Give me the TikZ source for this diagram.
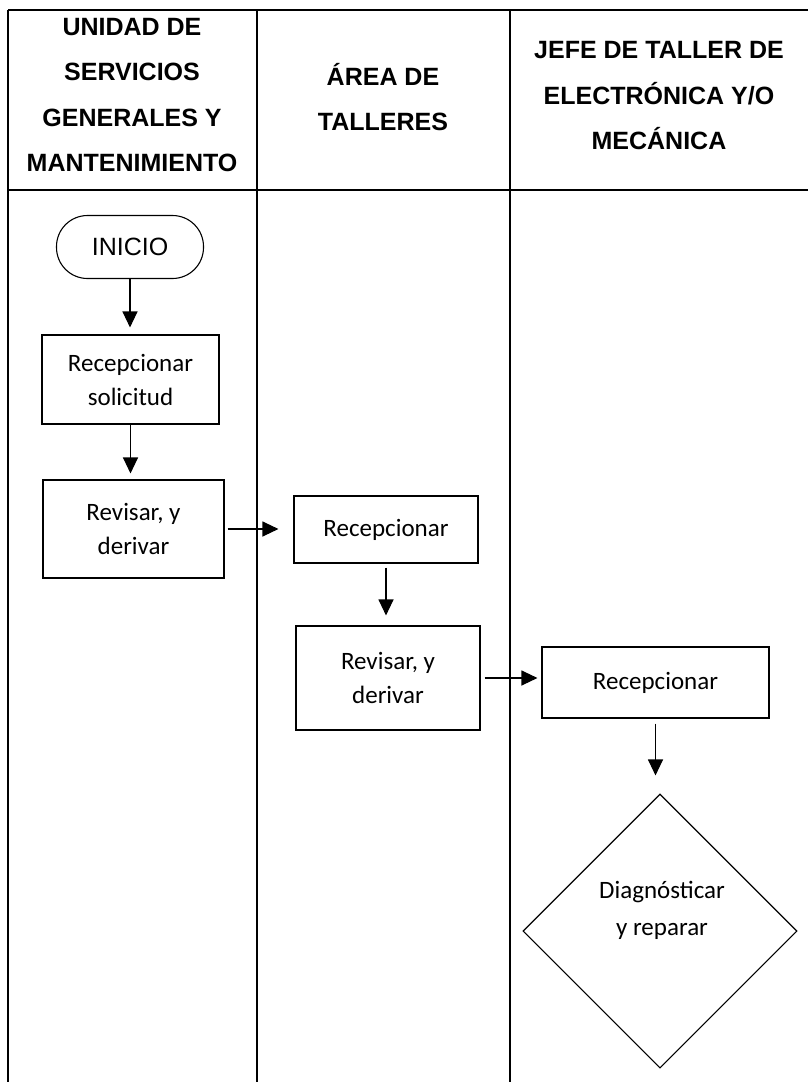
\documentclass[tikz,border=0pt]{standalone}
\usepackage{fontspec}
\setmainfont{Carlito}
\newfontfamily\arialfont{Liberation Sans}
\usepackage{tikz}
\tikzset{>=latex}
\usetikzlibrary{
    positioning, % posicionamento relativo de nós
    arrows.meta, % estilos modernos de setas
    shapes.geometric % losango
}
\tikzset{
  lane/.style={line width=1.2pt},
  head/.style={font=\arialfont\bfseries\fontsize{25}{45.5}\selectfont, align=center},
  proc/.style={draw, line width=1.1pt, font=\fontsize{25}{34}\selectfont, align=center, inner sep=0pt},
  flecha/.style={-{Triangle[length=16pt,width=15pt]}, line width=1.1pt},
}

\begin{document}
\begin{tikzpicture}[x=1pt,y=-1pt]
      % simple knobs (page in px, y downwards)
      \def\W{808}    % page width
      \def\H{1082}   % page height
      \def\xA{8}     % left border
      \def\xB{257}   % lane 1 | lane 2
      \def\xC{510}   % lane 2 | lane 3
      \def\yT{10}    % top line
      \def\yH{190}   % header line
      \useasboundingbox (0,0) rectangle (\W,\H);

      % ===================== LANES =====================
      \draw[lane] (\xA,\yT) -- (\W,\yT);
      \draw[lane] (\xA,\yH) -- (\W,\yH);
      \foreach \x in {\xA,\xB,\xC}
        \draw[lane] (\x,\yT) -- (\x,\H);

      % headers
      \node[head] (hUnidad) at (132,95) {UNIDAD DE\\SERVICIOS\\GENERALES Y\\MANTENIMIENTO};
      \node[head] (hArea)   at (383,97) {ÁREA DE\\TALLERES};
      \node[head] (hJefe)   at (659,96) {JEFE DE TALLER DE\\ELECTRÓNICA Y/O\\MECÁNICA};

      % ===================== STEPS =====================
      % lane 1
      \node[proc, rounded corners=31pt, minimum width=147pt, minimum height=63pt,
            font=\arialfont\fontsize{25}{30}\selectfont] (inicio) at (130,247) {INICIO};
      \node[proc, minimum width=177pt, minimum height=89pt] (recSol) at (130.5,379.5) {Recepcionar\\solicitud};
      \node[proc, minimum width=181pt, minimum height=98pt] (revUno) at (133.5,529) {Revisar, y\\derivar};

      % lane 2
      \node[proc, minimum width=184pt, minimum height=67pt]  (recArea) at (386,529.5) {Recepcionar};
      \node[proc, minimum width=184pt, minimum height=104pt] (revDos)  at (388,678) {Revisar, y\\derivar};

      % lane 3
      \node[proc, minimum width=227pt, minimum height=71pt] (recJefe) at (655.5,682.5) {Recepcionar};
      \node[draw, diamond, line width=1.1pt, minimum width=274pt, minimum height=274pt,
            inner sep=0pt] (diag) at (660,931) {};
      \node[font=\fontsize{25}{37}\selectfont, align=center] (diagTxt) at (662,910) {Diagnósticar\\y reparar};

      % ===================== ARROWS =====================
      \draw[flecha, shorten >=7pt] (inicio.south) -- (inicio.south |- recSol.north);
      \draw[flecha, shorten >=6pt] (recSol.south) -- (recSol.south |- revUno.north);
      \draw[flecha, shorten <=3pt, shorten >=15pt] (revUno.east) -- (revUno.east -| recArea.west);
      \draw[flecha, shorten <=4pt, shorten >=10pt] (recArea.south) -- (recArea.south |- revDos.north);
      \draw[flecha, shorten <=4pt, shorten >=4pt] (revDos.east) -- (revDos.east -| recJefe.west);
      \draw[flecha, shorten <=5pt, shorten >=18pt] (recJefe.south) -- (recJefe.south |- diag.north);
    \end{tikzpicture}
\end{document}
